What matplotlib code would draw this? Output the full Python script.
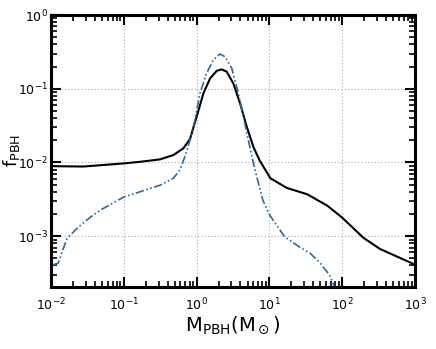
import matplotlib

matplotlib.use("Agg", force=True)
import matplotlib.pyplot as plt
from matplotlib.ticker import LogLocator, NullFormatter

plt.rcParams["mathtext.default"] = "regular"
plt.rcParams["font.family"] = "DejaVu Sans"

# black solid curve
m_solid = [0.01, 0.028, 0.1, 0.167, 0.314, 0.479, 0.656, 0.811, 1.0, 1.24,
           1.53, 1.89, 2.21, 2.59, 3.19, 3.95, 4.88, 6.01, 7.27, 10.3, 17.4,
           33, 62, 100, 195, 330, 1000]
f_solid = [8.9e-3, 8.8e-3, 9.7e-3, 1.02e-2, 1.1e-2, 1.26e-2, 1.55e-2, 2.08e-2,
           4.17e-2, 8.67e-2, 1.38e-1, 1.75e-1, 1.83e-1, 1.7e-1, 1.18e-1,
           6.34e-2, 3.05e-2, 1.63e-2, 1.08e-2, 6.1e-3, 4.5e-3, 3.7e-3, 2.6e-3,
           1.78e-3, 9.5e-4, 6.7e-4, 4.1e-4]

# blue dash-dot curve
m_dash = [0.0107, 0.0126, 0.0141, 0.0166, 0.023, 0.035, 0.047, 0.1, 0.167,
          0.314, 0.479, 0.589, 0.69, 0.811, 0.95, 1.11, 1.37, 1.69, 2.09,
          2.45, 3.04, 3.73, 4.38, 5.13, 6.01, 6.7, 8.1, 10, 16.2, 26, 36, 50,
          67, 79]
f_dash = [4.1e-4, 4.3e-4, 6.0e-4, 9.3e-4, 1.29e-3, 1.82e-3, 2.24e-3, 3.4e-3,
          4.0e-3, 4.9e-3, 6.1e-3, 7.9e-3, 1.2e-2, 2.0e-2, 3.8e-2, 8.7e-2,
          1.62e-1, 2.45e-1, 2.96e-1, 2.72e-1, 1.89e-1, 8.7e-2, 4.2e-2,
          2.01e-2, 9.8e-3, 6.4e-3, 3.1e-3, 1.95e-3, 9.8e-4, 7.1e-4, 5.9e-4,
          4.3e-4, 2.95e-4, 2.0e-4]

fig = plt.figure(figsize=(4.36, 3.49), dpi=100)
ax = fig.add_axes([0.117, 0.178, 0.835, 0.779])

ax.plot(m_solid, f_solid, color="black", lw=1.5)
ax.plot(m_dash, f_dash, color="#2e6a94", lw=1.2, dashes=(5, 1.5, 1, 1.5, 1, 1.5))

ax.set_xscale("log")
ax.set_yscale("log")
ax.set_xlim(1e-2, 1e3)
ax.set_ylim(2.05e-4, 1)

ax.xaxis.set_major_locator(LogLocator(base=10, numticks=10))
ax.yaxis.set_major_locator(LogLocator(base=10, numticks=10))
ax.xaxis.set_minor_locator(LogLocator(base=10, subs=range(2, 10), numticks=20))
ax.yaxis.set_minor_locator(LogLocator(base=10, subs=range(2, 10), numticks=20))
ax.xaxis.set_minor_formatter(NullFormatter())
ax.yaxis.set_minor_formatter(NullFormatter())

ax.tick_params(which="both", direction="in", top=True, right=True, labelsize=9)
ax.tick_params(which="major", length=7, width=1.5)
ax.tick_params(axis="y", which="major", pad=2)
ax.tick_params(axis="x", which="major", pad=7)
ax.tick_params(which="minor", length=4, width=1.2)
for sp in ax.spines.values():
    sp.set_linewidth(2.2)

ax.grid(True, which="major", ls=(0, (1, 2)), color="#aaaaaa", lw=0.8)

ax.set_xlabel(r"M$_{\rm PBH}$(M$_\odot$)", fontsize=14, labelpad=1)
ax.set_ylabel(r"f$_{\rm PBH}$", fontsize=13)
ax.yaxis.set_label_coords(-0.08, 0.5)

fig.savefig("out.png", dpi=100)
